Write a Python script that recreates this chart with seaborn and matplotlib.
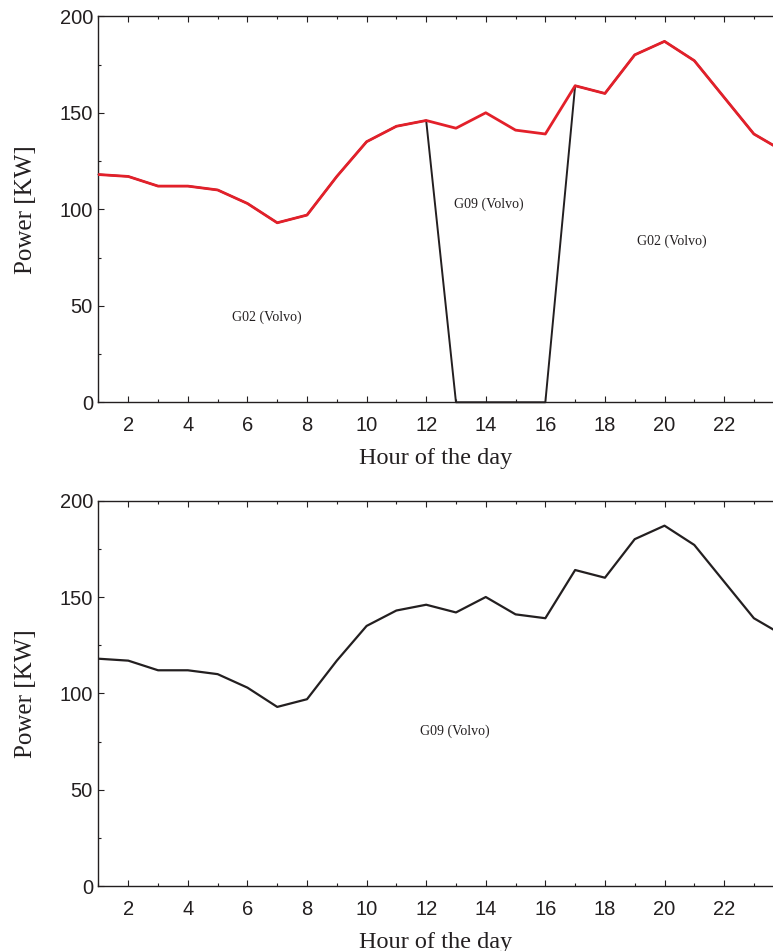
import matplotlib
matplotlib.use("Agg")
import matplotlib.pyplot as plt
from matplotlib.ticker import MultipleLocator
import numpy as np
import pandas as pd
import seaborn as sns

# Hourly power demand of the bus depot (kW)
hours = [1, 2, 3, 4, 5, 6, 7, 8, 9, 10, 11, 12,
         13, 14, 15, 16, 17, 18, 19, 20, 21, 22, 23, 24]
demand_kw = [118, 117, 112, 112, 110, 103, 93, 97, 117, 135, 143, 146,
             142, 150, 141, 139, 164, 160, 180, 187, 177, 158, 139, 130]
# Power delivered by G02 when G09 takes over from 13:00 to 16:00
g02_kw = [118, 117, 112, 112, 110, 103, 93, 97, 117, 135, 143, 146,
          0, 0, 0, 0, 164, 160, 180, 187, 177, 158, 139, 130]

top_labels = [("G02 (Volvo)", 6.65, 44), ("G09 (Volvo)", 14.1, 102.5),
              ("G02 (Volvo)", 20.25, 83.5)]
bottom_labels = [("G09 (Volvo)", 12.95, 80.5)]

y_ticks = [0, 50, 100, 150, 200]
x_ticks = [2, 4, 6, 8, 10, 12, 14, 16, 18, 20, 22]

sns.set_style("ticks")
plt.rcParams["font.family"] = ["Liberation Sans", "DejaVu Sans"]
ink = "#231f20"
red = "#e3202a"

df_top = pd.DataFrame({"hour": hours, "demand": demand_kw, "g02": g02_kw})

fig = plt.figure(figsize=(7.73, 9.51), dpi=100)
ax_top = fig.add_axes([0.1274, 0.5770, 0.8864, 0.4059])
ax_bot = fig.add_axes([0.1274, 0.0681, 0.8864, 0.4055])

sns.lineplot(data=df_top, x="hour", y="g02", ax=ax_top, color=ink,
             linewidth=1.4, clip_on=False, zorder=3)
sns.lineplot(data=df_top, x="hour", y="demand", ax=ax_top, color=red,
             linewidth=2.0, zorder=4)
sns.lineplot(data=df_top, x="hour", y="demand", ax=ax_bot, color=ink,
             linewidth=1.6, zorder=4)

for ax, labels in ((ax_top, top_labels), (ax_bot, bottom_labels)):
    ax.set_xlim(1, 24)
    ax.set_ylim(0, 200)
    ax.set_xticks(x_ticks)
    ax.set_yticks(y_ticks)
    ax.xaxis.set_minor_locator(MultipleLocator(1))
    ax.yaxis.set_minor_locator(MultipleLocator(25))
    ax.tick_params(axis="both", which="both", direction="in", colors=ink,
                   width=0.8, top=True, right=True)
    ax.tick_params(axis="both", which="major", length=4.5, labelsize=14.5)
    ax.tick_params(axis="both", which="minor", length=2.5)
    ax.tick_params(axis="x", which="major", pad=10)
    ax.tick_params(axis="y", which="major", pad=4)
    for side in ("left", "bottom", "top", "right"):
        ax.spines[side].set_visible(True)
        ax.spines[side].set_color(ink)
        ax.spines[side].set_linewidth(1.0)
    ax.set_xlabel("Hour of the day", family=["Liberation Serif"],
                  fontsize=17.5, color=ink)
    ax.set_ylabel("Power [KW]", family=["Liberation Serif"],
                  fontsize=18, color=ink)
    ax.xaxis.set_label_coords(0.4925, -0.118)
    ax.yaxis.set_label_coords(-0.09, 0.5)
    for text, x, y in labels:
        ax.text(x, y, text, family=["Liberation Serif"], fontsize=10,
                color=ink, ha="center", va="center")

fig.savefig("out.png", dpi=100)
